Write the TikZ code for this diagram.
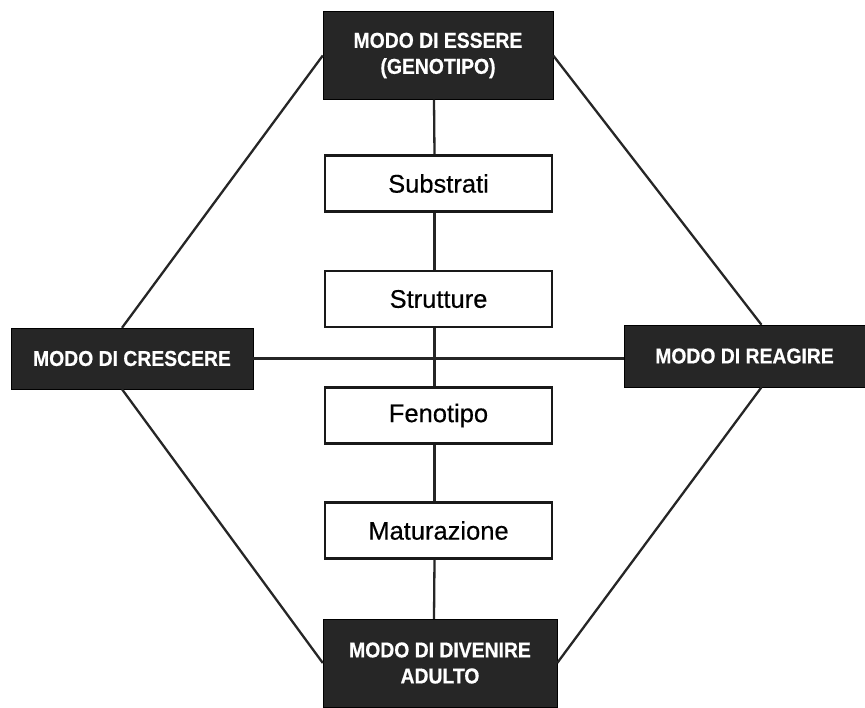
\documentclass[tikz,border=0pt]{standalone}
\usepackage{fontspec}
\setmainfont{Liberation Sans}
\newfontfamily\condfont[FakeStretch=0.9,FakeBold=0.6]{Liberation Sans}
\newfontfamily\labelfont[FakeBold=0.4]{Liberation Sans}
\begin{document}
\begin{tikzpicture}[x=1pt,y=-1pt,
  darkbox/.style={draw=black, fill=black!85, text=white, align=center, inner sep=0pt,
    font=\condfont\bfseries\fontsize{21.5}{26}\selectfont},
  whitebox/.style={draw=black!90, line width=2.6pt, fill=white, inner sep=0pt,
    minimum width=227pt, minimum height=56pt, font=\labelfont\fontsize{25.5}{28}\selectfont},
  conn/.style={line width=2.3pt, draw=black!85}]
\useasboundingbox[fill=white] (0,0) rectangle (865,707);

\node[darkbox, minimum width=230pt, minimum height=88pt] (top) at (438,55.5) {MODO DI ESSERE\\(GENOTIPO)};
\node[darkbox, minimum width=242pt, minimum height=61pt] (left) at (132,358.5) {MODO DI CRESCERE};
\node[darkbox, minimum width=241pt, minimum height=62pt] (right) at (744.5,356) {MODO DI REAGIRE};
\node[darkbox, minimum width=234pt, minimum height=88pt] (bottom) at (440,663) {MODO DI DIVENIRE\\ADULTO};

\node[whitebox] (sub) at (438.5,183.5) {Substrati};
\node[whitebox] (str) at (438.5,299) {Strutture};
\node[whitebox] (fen) at (438.5,415.5) {Fenotipo};
\node[whitebox] (mat) at (438.5,530.5) {Maturazione};

\draw[conn] (top.west) -- ([xshift=-10pt]left.north);
\draw[conn] (top.east) -- ([xshift=17pt]right.north);
\draw[conn] ([xshift=-10pt]left.south) -- (bottom.west);
\draw[conn] ([xshift=17pt]right.south) -- (bottom.east);
\draw[conn] (left.east) -- (left.east -| right.west);
\draw[conn] ([xshift=-4pt]top.south) -- ([xshift=-4pt]sub.north);
\draw[conn] ([xshift=-4pt]sub.south) -- ([xshift=-4pt]str.north);
\draw[conn] ([xshift=-4pt]str.south) -- ([xshift=-4pt]fen.north);
\draw[conn] ([xshift=-4pt]fen.south) -- ([xshift=-4pt]mat.north);
\draw[conn] ([xshift=-4pt]mat.south) -- ([xshift=-6pt]bottom.north);
\end{tikzpicture}
\end{document}
